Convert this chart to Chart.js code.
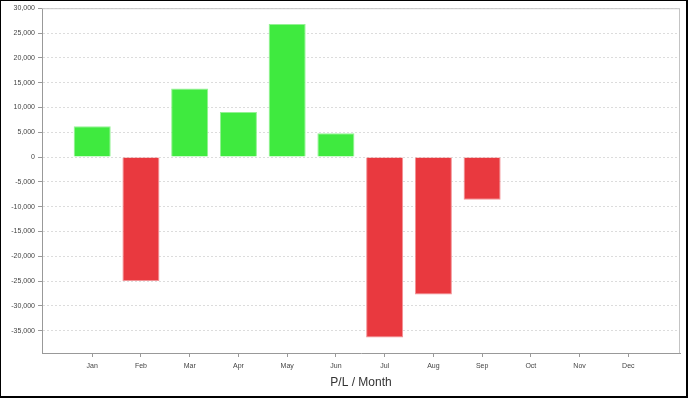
<!DOCTYPE html>
<html>
<head>
<meta charset="utf-8">
<script src="https://cdn.jsdelivr.net/npm/chart.js@4/dist/chart.umd.min.js"></script>
<style>
  html, body { margin: 0; padding: 0; background: #fff; }
  #wrap { width: 688px; height: 398px; box-sizing: border-box; border-style: solid; border-color: #000; border-width: 1px 2px 2px 1px; }
  canvas { display: block; }
</style>
</head>
<body>
<div id="wrap"><canvas id="chart" width="685" height="395"></canvas></div>
<script>
// P/L per month (only Jan..Sep have values)
const months = ['Jan', 'Feb', 'Mar', 'Apr', 'May', 'Jun', 'Jul', 'Aug', 'Sep', 'Oct', 'Nov', 'Dec'];
const profitLoss = [6200, -25000, 13800, 9100, 26800, 4800, -36400, -27700, -8600];
const yTicks = [30000, 25000, 20000, 15000, 10000, 5000, 0, -5000, -10000, -15000, -20000, -25000, -30000, -35000];

const green = '#3FEA3F';
const red = '#E9393F';
const greenEdge = '#93F293';
const redEdge = '#F29195';

// light frame on top/right of the plot area
const plotFrame = {
  id: 'plotFrame',
  beforeDatasetsDraw(chart) {
    const { ctx, chartArea: a } = chart;
    ctx.save();
    ctx.strokeStyle = '#c4c4c4';
    ctx.lineWidth = 1;
    ctx.beginPath();
    ctx.moveTo(a.left, a.top + 0.5);
    ctx.lineTo(a.right - 0.5, a.top + 0.5);
    ctx.lineTo(a.right - 0.5, a.bottom);
    ctx.stroke();
    ctx.restore();
  }
};

const ctx = document.getElementById('chart').getContext('2d');
new Chart(ctx, {
  type: 'bar',
  data: {
    datasets: [{
      label: 'P/L',
      data: profitLoss.map((v, i) => ({ x: i, y: v })),
      backgroundColor: profitLoss.map(v => v >= 0 ? green : red),
      borderColor: profitLoss.map(v => v >= 0 ? greenEdge : redEdge),
      borderWidth: 1,
      barPercentage: 0.76,
      categoryPercentage: 1
    }]
  },
  options: {
    responsive: false,
    animation: false,
    layout: { padding: { top: 6, right: 6, left: 0, bottom: 0 } },
    plugins: { legend: { display: false }, tooltip: { enabled: false } },
    scales: {
      x: {
        type: 'linear',
        offset: false,
        min: -1.03,
        max: 12.06,
        afterBuildTicks: s => { s.ticks = months.map((m, i) => ({ value: i })); },
        afterFit: s => { s.height = 43; },
        ticks: {
          autoSkip: false,
          maxRotation: 0,
          padding: 5,
          color: '#444',
          font: { family: 'Liberation Sans', size: 7 },
          callback: v => months[v]
        },
        grid: { offset: false, drawOnChartArea: false, drawTicks: true, tickLength: 4, color: '#999' },
        border: { color: '#999' },
        title: {
          display: true,
          text: 'P/L / Month',
          color: '#333',
          font: { family: 'Liberation Sans', size: 12 },
          padding: { top: 0, bottom: 6 }
        }
      },
      y: {
        min: -39500,
        max: 30000,
        afterBuildTicks: s => { s.ticks = yTicks.map(v => ({ value: v })); },
        afterFit: s => { s.width = 41; },
        ticks: {
          padding: 3,
          color: '#444',
          font: { family: 'Liberation Sans', size: 7 },
          callback: v => v.toLocaleString('en-US')
        },
        grid: { color: '#dcdcdc', tickColor: '#999', tickLength: 4, tickBorderDash: [] },
        border: { color: '#999', dash: [2, 2] }
      }
    }
  },
  plugins: [plotFrame]
});
</script>
</body>
</html>
